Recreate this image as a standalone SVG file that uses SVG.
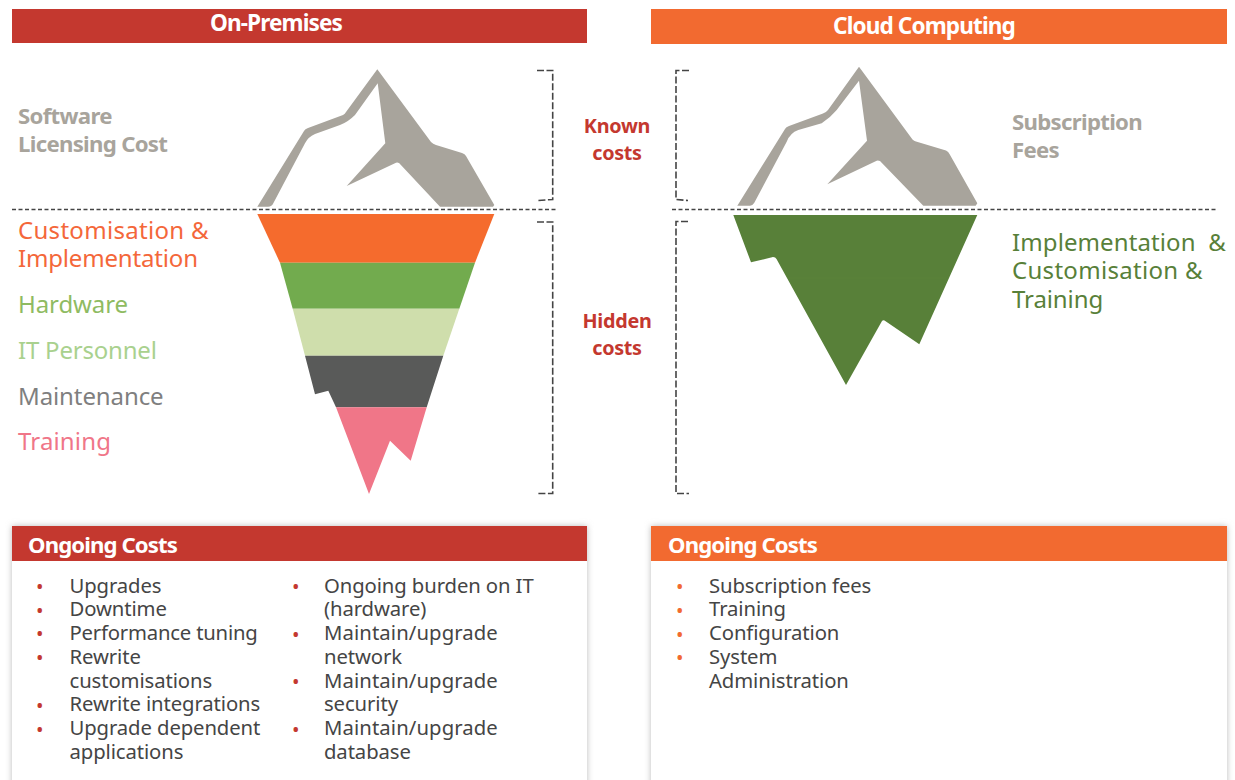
<svg xmlns="http://www.w3.org/2000/svg" width="1235" height="780" viewBox="0 0 1235 780">
<defs>
<filter id="sh" x="-5%" y="-5%" width="110%" height="110%"><feGaussianBlur stdDeviation="3"/></filter>
</defs>
<style>
text{font-family:"Noto Sans","Open Sans","Liberation Sans",sans-serif}
.hd{font-weight:700;font-size:22.6px;fill:#fff;letter-spacing:-.9px}
.hd2{font-weight:700;font-size:22.2px;fill:#fff;letter-spacing:-.9px}
.c{text-anchor:middle}
.lg{font-weight:700;font-size:22.2px;fill:#a8a49c;letter-spacing:-.7px}
.lb{font-size:24px;letter-spacing:-.1px}
.kn{font-weight:700;font-size:19.8px;fill:#c4382f;text-anchor:middle;letter-spacing:-.3px}
.b{font-size:20.3px;fill:#454545;letter-spacing:-.1px}
.br{fill:#c4382f;font-size:20px}
.bo{fill:#f26a30;font-size:20px}
.dash{fill:none;stroke:#444;stroke-width:1.5;stroke-dasharray:4 2.5}
.brk{fill:none;stroke:#444;stroke-width:1.6;stroke-dasharray:7 2.5}
.ice{fill:#a8a49c}
</style>
<rect width="1235" height="780" fill="#fff"/>
<g id="header-onprem"><rect x="12" y="9" width="575" height="34" fill="#c4382f"/><text class="hd c" x="276" y="31">On-Premises</text></g>
<g id="header-cloud"><rect x="651" y="9" width="576" height="35" fill="#f26a30"/><text class="hd c" x="924" y="34">Cloud Computing</text></g>

<g id="connectors">
<path class="dash" d="M12 209.5H556"/>
<path class="dash" d="M672 209.5H1216"/>
<path class="brk" d="M537 70.5H552.7V199.5L538 200.5"/>
<path class="brk" d="M537 222H552.7V493.5H537"/>
<path class="brk" d="M689 70.5H676V199.5L688 200.5"/>
<path class="brk" d="M688 221.5H676V493.5H689"/>
</g>

<g id="iceberg-onprem">
<path class="ice" d="M377.3 69.3L431 142Q433 144 436 145L462 153Q465 154 466 156L494.3 205L493 206.7H440L399.3 163.3Q397.5 162 396 162.7L346.7 186L385.3 143.3L377.7 83.3L355 115Q348 122 340 125L315 134Q308 137 305 143.3L273.3 203.3Q272 206.7 268 206.7H257.3L304 131Q305 129 308 128L343 115Q345 114 346 112Z"/>
<path fill="#f56b2d" d="M257.3 214H494.3L475 262.7H280Z"/>
<path fill="#72ab4e" d="M280 262.7H475L459.3 308.7H292.7Z"/>
<path fill="#cfdeac" d="M292.7 308.7H459.3L443.3 355.7H305Z"/>
<path fill="#595a59" d="M305 355.7H443.3L426.7 407.3H336L328.3 390.7L315 394.3Z"/>
<path fill="#f07688" d="M336 407.3H426.7L410.7 460.7L390 440.7L369 494Z"/>
</g>
<g id="iceberg-cloud">
<path class="ice" d="M859 66.7L912.5 139.5Q914 141 916 141.5L946 150.5Q948.5 151.5 949.5 154L977.3 203.3L975.7 205.7H923.3L880 161Q878 160 876.7 160.7L827.3 184.3L867 140.7L859 80.7L836.7 110Q830 118 821.7 123.3L798.3 130Q790 133 786.7 141.7L754.3 202.7Q752.5 205.7 750 205.7H737.3L785 129Q786 127 789 126L823 113.5Q826 112.5 828 110Z"/>
<path fill="#588039" d="M733.3 215H977.3L919.3 344.3L884.5 320.5Q883 320 882 321L846 385L776.5 259Q775.5 257 773 257L751 262.3Z"/>
<path fill="none" stroke="#5a823b" stroke-width="1" d="M789 278H946"/>
</g>

<g id="labels-onprem">
<text class="lg" x="18" y="123.5">Software</text>
<text class="lg" x="18" y="151.5">Licensing Cost</text>
<text class="lb" x="18" y="239" fill="#f4673a" style="letter-spacing:.3px">Customisation &amp;</text>
<text class="lb" x="18" y="267" fill="#f4673a" style="letter-spacing:-.17px">Implementation</text>
<text class="lb" x="18" y="313" fill="#8fbb62">Hardware</text>
<text class="lb" x="18" y="359" fill="#a9d18e" style="letter-spacing:-.2px">IT Personnel</text>
<text class="lb" x="18" y="405" fill="#7f7f7f">Maintenance</text>
<text class="lb" x="18" y="450" fill="#f07688" style="letter-spacing:.15px">Training</text>
</g>
<g id="labels-middle">
<text class="kn" x="617" y="132.5">Known</text>
<text class="kn" x="617" y="159.5">costs</text>
<text class="kn" x="617" y="327.5">Hidden</text>
<text class="kn" x="617" y="354.5">costs</text>
</g>
<g id="labels-cloud">
<text class="lg" x="1012" y="129.5">Subscription</text>
<text class="lg" x="1012" y="157.5">Fees</text>
<text class="lb" x="1012" y="251" fill="#588039" xml:space="preserve" style="letter-spacing:.1px">Implementation  &amp;</text>
<text class="lb" x="1012" y="279" fill="#588039" style="letter-spacing:.3px">Customisation &amp;</text>
<text class="lb" x="1012" y="308" fill="#588039">Training</text>
</g>

<g id="panel-onprem">
<rect x="12" y="526" width="575" height="270" fill="#bbb" filter="url(#sh)"/>
<rect x="12" y="526" width="575" height="260" fill="#fff"/>
<rect x="12" y="526" width="575" height="35" fill="#c4382f"/>
<text class="hd2" x="28" y="552.5">Ongoing Costs</text>
<g class="br"><text x="36" y="593.5">•</text><text x="36" y="617.5">•</text><text x="36" y="640.5">•</text><text x="36" y="664.5">•</text><text x="36" y="712.5">•</text><text x="36" y="736.5">•</text>
<text x="292" y="593.5">•</text><text x="292" y="641.5">•</text><text x="292" y="688.5">•</text><text x="292" y="736.5">•</text></g>
<g class="b"><text x="69.5" y="593">Upgrades</text><text x="69.5" y="616">Downtime</text><text x="69.5" y="640" style="letter-spacing:-.2px">Performance tuning</text><text x="69.5" y="664">Rewrite</text><text x="69.5" y="688">customisations</text><text x="69.5" y="711">Rewrite integrations</text><text x="69.5" y="735">Upgrade dependent</text><text x="69.5" y="759">applications</text>
<text x="324" y="593">Ongoing burden on IT</text><text x="324" y="616">(hardware)</text><text x="324" y="640" style="letter-spacing:.1px">Maintain/upgrade</text><text x="324" y="664">network</text><text x="324" y="688" style="letter-spacing:.1px">Maintain/upgrade</text><text x="324" y="711">security</text><text x="324" y="735" style="letter-spacing:.1px">Maintain/upgrade</text><text x="324" y="759">database</text></g>
</g>
<g id="panel-cloud">
<rect x="651" y="526" width="576" height="270" fill="#bbb" filter="url(#sh)"/>
<rect x="651" y="526" width="576" height="260" fill="#fff"/>
<rect x="651" y="526" width="576" height="35" fill="#f26a30"/>
<text class="hd2" x="668" y="552.5">Ongoing Costs</text>
<g class="bo"><text x="676" y="593.5">•</text><text x="676" y="617.5">•</text><text x="676" y="641.5">•</text><text x="676" y="664.5">•</text></g>
<g class="b"><text x="709" y="593">Subscription fees</text><text x="709" y="616">Training</text><text x="709" y="640">Configuration</text><text x="709" y="664">System</text><text x="709" y="688">Administration</text></g>
</g>
</svg>
